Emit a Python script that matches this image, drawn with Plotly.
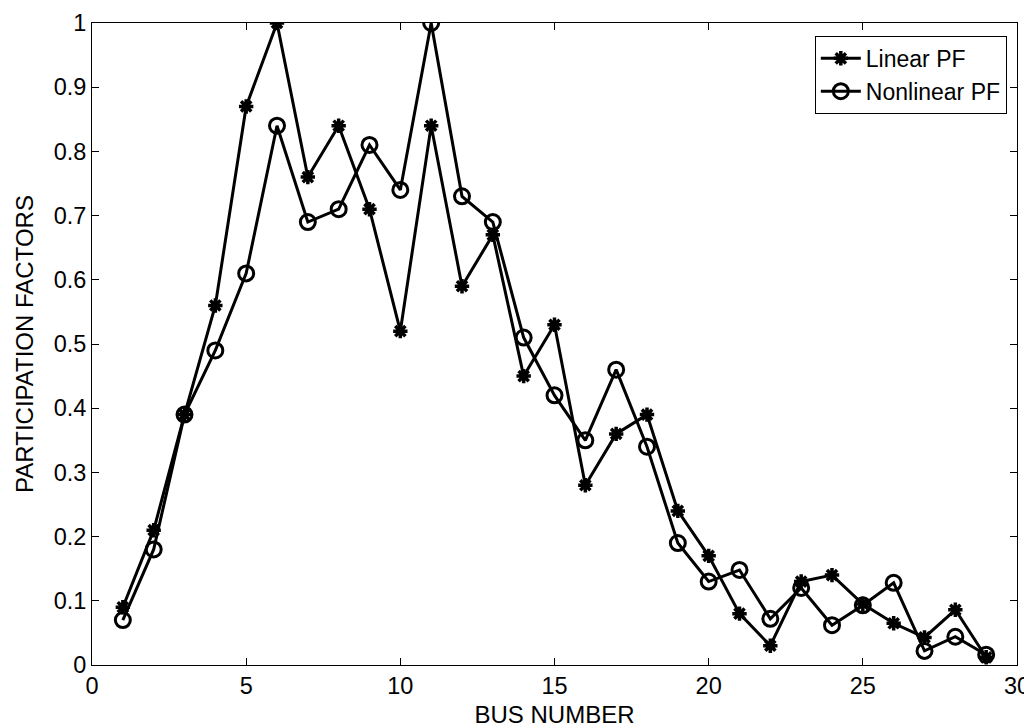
import plotly.graph_objects as go

bus = list(range(1, 30))
linear_pf = [0.09, 0.21, 0.39, 0.56, 0.87, 1.0, 0.76, 0.84, 0.71, 0.52,
             0.84, 0.59, 0.67, 0.45, 0.53, 0.28, 0.36, 0.39, 0.24, 0.17,
             0.08, 0.03, 0.13, 0.14, 0.095, 0.065, 0.043, 0.086, 0.012]
nonlinear_pf = [0.07, 0.18, 0.39, 0.49, 0.61, 0.84, 0.69, 0.71, 0.81, 0.74,
                1.0, 0.73, 0.69, 0.51, 0.42, 0.35, 0.46, 0.34, 0.19, 0.13,
                0.148, 0.072, 0.12, 0.062, 0.093, 0.128, 0.022, 0.044, 0.016]
x_ticks = [0, 5, 10, 15, 20, 25, 30]
y_ticks = [0, 0.1, 0.2, 0.3, 0.4, 0.5, 0.6, 0.7, 0.8, 0.9, 1]
y_tick_labels = ["0", "0.1", "0.2", "0.3", "0.4", "0.5", "0.6", "0.7", "0.8", "0.9", "1"]

FONT = "Liberation Sans, Arial, sans-serif"

fig = go.Figure()
fig.add_trace(go.Scatter(
    x=bus, y=linear_pf, mode="lines+markers", name="Linear PF",
    line=dict(color="black", width=3),
    marker=dict(symbol="asterisk-open", size=12, color="black",
                line=dict(color="black", width=3.5)),
))
fig.add_trace(go.Scatter(
    x=bus, y=nonlinear_pf, mode="lines+markers", name="Nonlinear PF",
    line=dict(color="black", width=3),
    marker=dict(symbol="circle-open", size=15, color="black",
                line=dict(color="black", width=3)),
))

axis_common = dict(
    showgrid=False, zeroline=False, automargin=False,
    showline=True, linecolor="black", linewidth=1, mirror="ticks",
    ticks="inside", ticklen=7, tickcolor="black", tickwidth=1,
    tickfont=dict(family=FONT, size=23.5, color="black"),
)

# the page body has an 8px default margin, so the figure is sized 8px smaller
fig.update_layout(
    width=1024, height=720,
    paper_bgcolor="white", plot_bgcolor="white",
    margin=dict(l=84, r=15, t=15, b=63),
    font=dict(family=FONT, size=23, color="black"),
    xaxis=dict(range=[0, 30], tickvals=x_ticks,
               title=dict(text="BUS NUMBER", font=dict(family=FONT, size=24), standoff=11),
               **axis_common),
    yaxis=dict(range=[0, 1], tickvals=y_ticks, ticktext=y_tick_labels,
               title=dict(text="PARTICIPATION FACTORS", font=dict(family=FONT, size=24), standoff=13),
               **axis_common),
    legend=dict(x=0.989, y=0.98, xanchor="right", yanchor="top",
                bgcolor="white", bordercolor="black", borderwidth=1,
                font=dict(family=FONT, size=23, color="black"),
                itemwidth=40, tracegroupgap=0),
    showlegend=True,
)

fig.write_html("out.html")
